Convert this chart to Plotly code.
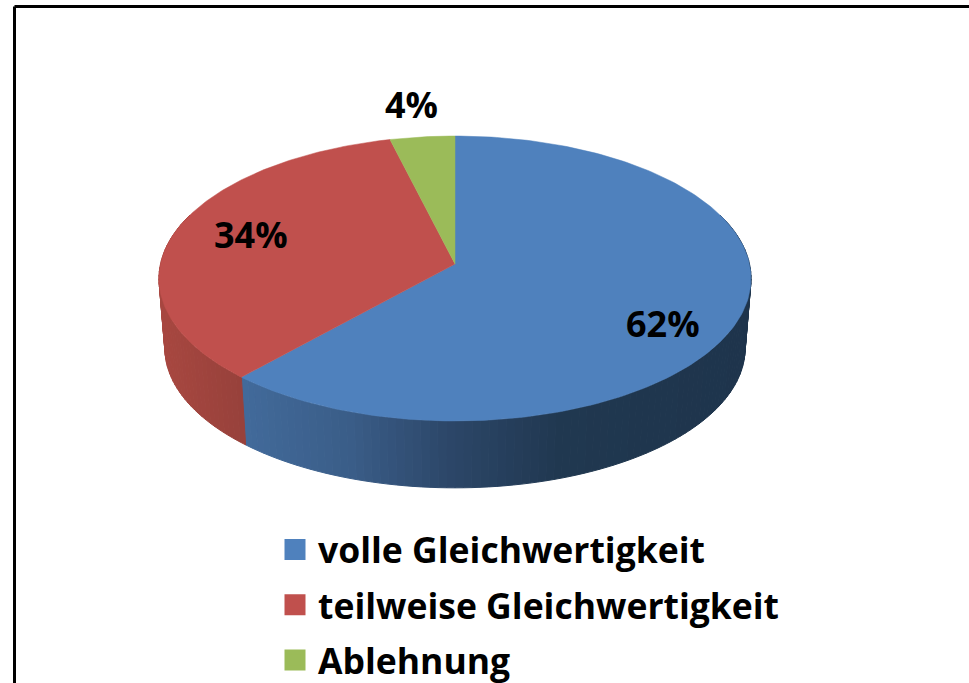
import numpy as np
import plotly.graph_objects as go

categories = ["volle Gleichwertigkeit", "teilweise Gleichwertigkeit", "Ablehnung"]
values = [61.7, 34.4, 3.9]
top_colors = ["#4F81BD", "#C0504D", "#9BBB59"]
# side wall shade: (pixel x, colour) stops per slice
wall_stops = [
    [(245, (66, 106, 154)), (350, (58, 93, 136)), (450, (44, 70, 104)), (560, (32, 56, 80)), (750, (30, 52, 76))],
    [(160, (168, 71, 64)), (245, (151, 65, 59))],
    [(160, (120, 140, 70)), (450, (120, 140, 70))],
]
label_pos = [(663, 323), (251, 234), (411, 104)]

AX, AY, A, B, P = 455, 264, 294.5, 141, 0.1018
DEPTH_AY, DEPTH_S = 334, 0.98
FONT = "Open Sans"


def project(theta, base=False):
    X, Y = np.sin(theta), np.cos(theta)
    d = 1 + P * Y
    s = DEPTH_S if base else 1
    ay = DEPTH_AY if base else AY
    return AX + s * A * X / d, ay - s * B * Y / d


def shade(stops, x):
    xs = [s[0] for s in stops]
    c = [np.interp(x, xs, [s[1][i] for s in stops]) for i in range(3)]
    return "rgb(%d,%d,%d)" % tuple(int(round(v)) for v in c)


fig = go.Figure()
edges = np.concatenate([[0], np.cumsum(values)]) / sum(values) * 2 * np.pi

# side walls
for i in range(len(values)):
    steps = np.arange(edges[i], edges[i + 1], np.radians(1.5))
    steps = np.append(steps, edges[i + 1])
    for a, b in zip(steps[:-1], steps[1:]):
        if np.cos((a + b) / 2) > 0.35:
            continue
        t = np.array([a, b])
        x1, y1 = project(t)
        x2, y2 = project(t[::-1], base=True)
        col = shade(wall_stops[i], (x1.mean() + x2.mean()) / 2)
        fig.add_trace(go.Scatter(
            x=np.r_[x1, x2, x1[0]], y=np.r_[y1, y2, y1[0]], mode="lines", fill="toself",
            fillcolor=col, line=dict(color=col, width=1), showlegend=False, hoverinfo="skip"))

# top face
for i in range(len(values)):
    t = np.linspace(edges[i], edges[i + 1], 200)
    x, y = project(t)
    fig.add_trace(go.Scatter(
        x=np.r_[AX, x, AX], y=np.r_[AY, y, AY], mode="lines", fill="toself",
        fillcolor=top_colors[i], line=dict(color=top_colors[i], width=0.5),
        showlegend=False, hoverinfo="skip"))

# legend entries
for name, col in zip(categories, top_colors):
    fig.add_trace(go.Scatter(
        x=[None], y=[None], mode="markers", name=name, legendgroup=name,
        marker=dict(symbol="square", size=23, color=col, line=dict(color=col, width=5))))

for v, (lx, ly) in zip(values, label_pos):
    fig.add_annotation(x=lx, y=ly, text=f"{round(v)}%", showarrow=False,
                       font=dict(family=FONT, size=36, color="#000000", weight=700))

# frame
fig.add_shape(type="line", x0=14.5, x1=969, y0=6.5, y1=6.5, line=dict(color="#000000", width=3))
fig.add_shape(type="line", x0=14.5, x1=14.5, y0=6.5, y1=683, line=dict(color="#000000", width=3))

fig.update_layout(
    width=969, height=683, margin=dict(l=0, r=0, t=0, b=0, autoexpand=False),
    paper_bgcolor="#ffffff", plot_bgcolor="#ffffff", hovermode=False,
    xaxis=dict(range=[0, 969], visible=False, fixedrange=True),
    yaxis=dict(range=[683, 0], visible=False, fixedrange=True),
    legend=dict(x=272 / 969, y=1 - 520 / 683, xanchor="left", yanchor="top", itemwidth=36,
                tracegroupgap=6, bgcolor="rgba(0,0,0,0)", itemsizing="trace",
                font=dict(family=FONT, size=35.5, color="#000000", weight=700)),
)
fig.write_html("out.html", config=dict(displayModeBar=False),
               post_script="document.body.style.margin='0';document.documentElement.style.overflow='hidden';")
